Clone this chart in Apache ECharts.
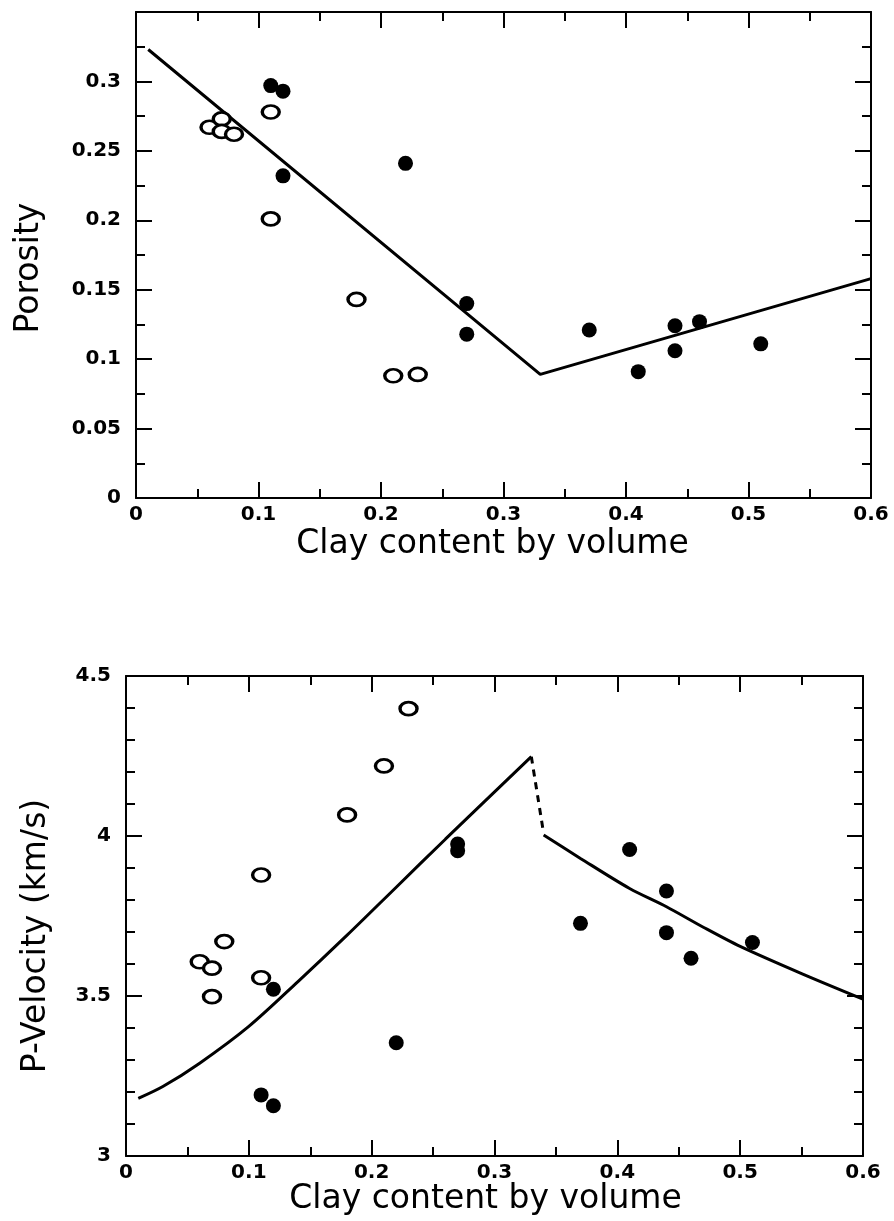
<!DOCTYPE html>
<html><head><meta charset="utf-8">
<script src="https://cdn.jsdelivr.net/npm/echarts@6/dist/echarts.min.js"></script>
<style>html,body{margin:0;padding:0;background:#fff}#c{width:894px;height:1221px}</style>
</head><body><div id="c"></div>
<script>
// ---- Top panel: Porosity vs clay content ----
const porOpenX   = [0.06, 0.07, 0.07, 0.08, 0.11, 0.11, 0.18, 0.21, 0.23];
const porOpenY   = [0.267, 0.273, 0.264, 0.262, 0.278, 0.201, 0.143, 0.088, 0.089];
const porFilledX = [0.11, 0.12, 0.12, 0.22, 0.27, 0.27, 0.37, 0.41, 0.44, 0.44, 0.46, 0.51];
const porFilledY = [0.297, 0.293, 0.232, 0.241, 0.140, 0.118, 0.121, 0.091, 0.124, 0.106, 0.127, 0.111];
const porLineX   = [0.01, 0.33, 0.60];
const porLineY   = [0.323, 0.089, 0.158];

// ---- Bottom panel: P-velocity vs clay content ----
const velOpenX   = [0.06, 0.07, 0.07, 0.08, 0.11, 0.11, 0.18, 0.21, 0.23];
const velOpenY   = [3.607, 3.587, 3.498, 3.670, 3.878, 3.557, 4.066, 4.219, 4.398];
const velFilledX = [0.12, 0.11, 0.12, 0.22, 0.27, 0.27, 0.37, 0.41, 0.44, 0.44, 0.46, 0.51];
const velFilledY = [3.521, 3.191, 3.157, 3.354, 3.975, 3.954, 3.727, 3.958, 3.828, 3.698, 3.618, 3.667];
const velLine1X  = [0.01, 0.03, 0.06, 0.10, 0.14, 0.18, 0.22, 0.26, 0.33];
const velLine1Y  = [3.180, 3.217, 3.290, 3.405, 3.545, 3.690, 3.840, 3.990, 4.248];
const velDashX   = [0.33, 0.34];
const velDashY   = [4.248, 4.008];
const velLine2X  = [0.34, 0.37, 0.41, 0.44, 0.47, 0.50, 0.55, 0.60];
const velLine2Y  = [4.003, 3.930, 3.836, 3.779, 3.715, 3.655, 3.570, 3.490];

const xTitle = 'Clay content by volume';
const porTitle = 'Porosity';
const velTitle = 'P-Velocity (km/s)';

const zip = (a, b) => a.map((v, i) => [v, b[i]]);
const FONT = 'DejaVu Sans';
const BLACK = '#000';

function xAxisDef(grid, pos, showLabels, name, nameGap, shiftLeft) {
  return {
    type: 'value', gridIndex: grid, position: pos, min: 0, max: 0.6, interval: 0.1,
    axisLine: { show: true, onZero: false, lineStyle: { color: BLACK, width: 2 } },
    axisTick: { show: true, inside: true, length: 16, lineStyle: { color: BLACK, width: 2 } },
    minorTick: { show: true, splitNumber: 2, length: 9, lineStyle: { color: BLACK, width: 2 } },
    splitLine: { show: false }, minorSplitLine: { show: false },
    axisLabel: { show: showLabels, margin: 7, color: BLACK, fontFamily: FONT, fontWeight: 'bold', fontSize: 20 },
    name: name || '', nameLocation: 'middle', nameGap: nameGap || 0, nameMoveOverlap: false,
    nameTextStyle: { fontFamily: FONT, fontSize: 33, color: BLACK, padding: [0, (shiftLeft || 0) * 2, 0, 0] }
  };
}
function yAxisDef(grid, pos, showLabels, min, max, interval, minorSplit, name, nameGap, shiftDown, showMax) {
  return {
    type: 'value', gridIndex: grid, position: pos, min: min, max: max, interval: interval,
    axisLine: { show: true, onZero: false, lineStyle: { color: BLACK, width: 2 } },
    axisTick: { show: true, inside: true, length: 16, lineStyle: { color: BLACK, width: 2 } },
    minorTick: { show: true, splitNumber: minorSplit, length: 9, lineStyle: { color: BLACK, width: 2 } },
    splitLine: { show: false }, minorSplitLine: { show: false },
    axisLabel: { show: showLabels, margin: 15, color: BLACK, fontFamily: FONT, fontWeight: 'bold', fontSize: 20, showMaxLabel: showMax },
    name: name || '', nameLocation: 'middle', nameGap: nameGap || 0, nameMoveOverlap: false,
    nameTextStyle: { fontFamily: FONT, fontSize: 33, color: BLACK, padding: [0, (shiftDown || 0) * 2, 0, 0] }
  };
}

const openStyle = { color: '#fff', borderColor: BLACK, borderWidth: 3, opacity: 1 };
const fillStyle = { color: BLACK, borderColor: BLACK, borderWidth: 0, opacity: 1 };
const lineStyle = { color: BLACK, width: 3 };

const option = {
  animation: false,
  backgroundColor: '#fff',
  grid: [
    { left: 136, top: 12, width: 735, height: 486, outerBoundsMode: 'none', containLabel: false },
    { left: 126, top: 676, width: 737, height: 480, outerBoundsMode: 'none', containLabel: false }
  ],
  xAxis: [
    xAxisDef(0, 'bottom', true, xTitle, 30, 11),
    xAxisDef(0, 'top', false),
    xAxisDef(1, 'bottom', true, xTitle, 27, 9),
    xAxisDef(1, 'top', false)
  ],
  yAxis: [
    yAxisDef(0, 'left', true, 0, 0.35, 0.05, 2, porTitle, 90, 13, false),
    yAxisDef(0, 'right', false, 0, 0.35, 0.05, 2),
    yAxisDef(1, 'left', true, 3, 4.5, 0.5, 5, velTitle, 73, 20, true),
    yAxisDef(1, 'right', false, 3, 4.5, 0.5, 5)
  ],
  series: [
    { type: 'line', xAxisIndex: 0, yAxisIndex: 0, data: zip(porLineX, porLineY), symbol: 'none', lineStyle: lineStyle, z: 2 },
    { type: 'scatter', xAxisIndex: 0, yAxisIndex: 0, data: zip(porOpenX, porOpenY), symbol: 'circle', symbolSize: [17, 13], itemStyle: openStyle, z: 3 },
    { type: 'scatter', xAxisIndex: 0, yAxisIndex: 0, data: zip(porFilledX, porFilledY), symbol: 'circle', symbolSize: 15, itemStyle: fillStyle, z: 3 },
    { type: 'line', xAxisIndex: 2, yAxisIndex: 2, data: zip(velLine1X, velLine1Y), symbol: 'none', smooth: 0.3, lineStyle: lineStyle, z: 2 },
    { type: 'line', xAxisIndex: 2, yAxisIndex: 2, data: zip(velDashX, velDashY), symbol: 'none', lineStyle: { color: BLACK, width: 3, type: [7, 6] }, z: 2 },
    { type: 'line', xAxisIndex: 2, yAxisIndex: 2, data: zip(velLine2X, velLine2Y), symbol: 'none', smooth: 0.3, lineStyle: lineStyle, z: 2 },
    { type: 'scatter', xAxisIndex: 2, yAxisIndex: 2, data: zip(velOpenX, velOpenY), symbol: 'circle', symbolSize: [17, 13], itemStyle: openStyle, z: 3 },
    { type: 'scatter', xAxisIndex: 2, yAxisIndex: 2, data: zip(velFilledX, velFilledY), symbol: 'circle', symbolSize: 15, itemStyle: fillStyle, z: 3 }
  ]
};
const chart = echarts.init(document.getElementById('c'), null, { renderer: 'canvas' });
chart.setOption(option);
</script>
</body></html>
